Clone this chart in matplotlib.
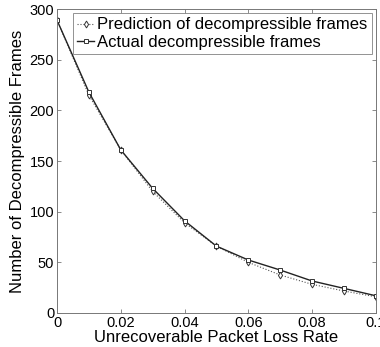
import matplotlib
matplotlib.use("Agg")
import matplotlib.pyplot as plt

loss_rate = [0, 0.01, 0.02, 0.03, 0.04, 0.05, 0.06, 0.07, 0.08, 0.09, 0.1]
predicted = [289, 215, 161, 120, 89, 66, 50, 37.5, 28.3, 21.7, 16]
actual = [289, 218, 161, 123, 91, 66, 52.3, 42.4, 31.6, 24.3, 17]

plt.rcParams['font.family'] = ['Liberation Sans', 'DejaVu Sans']

fig = plt.figure(figsize=(3.8, 3.47), dpi=100)
ax = fig.add_axes([0.15, 0.098, 0.839, 0.876])

ax.plot(loss_rate, predicted, linestyle=':', color='#555555', linewidth=0.8,
        marker='d', markersize=3.5, markerfacecolor='white', markeredgecolor='#333333',
        markeredgewidth=0.7, label='Prediction of decompressible frames')
ax.plot(loss_rate, actual, linestyle='-', color='#222222', linewidth=1.0,
        marker='s', markersize=3.5, markerfacecolor='white', markeredgecolor='#333333',
        markeredgewidth=0.7, label='Actual decompressible frames')

ax.set_xlim(0, 0.1)
ax.set_ylim(0, 300)
ax.set_xticks([0, 0.02, 0.04, 0.06, 0.08, 0.1])
ax.set_xticklabels(['0', '0.02', '0.04', '0.06', '0.08', '0.1'])
ax.set_yticks([0, 50, 100, 150, 200, 250, 300])
ax.tick_params(direction='in', top=True, right=True, labelsize=10.5, length=3, width=0.6,
               pad=2, color='#777777')
for s in ax.spines.values():
    s.set_linewidth(0.7)
    s.set_color('#777777')

ax.set_xlabel('Unrecoverable Packet Loss Rate', fontsize=12, labelpad=0)
ax.set_ylabel('Number of Decompressible Frames', fontsize=12, labelpad=3)

leg = ax.legend(loc='upper right', fontsize=12, frameon=True, fancybox=False,
                edgecolor='#777777', handlelength=1.0, handletextpad=0.2,
                borderpad=0.25, labelspacing=0.15, borderaxespad=0.25)
leg.get_frame().set_linewidth(0.7)

fig.savefig('out.png', dpi=100)
